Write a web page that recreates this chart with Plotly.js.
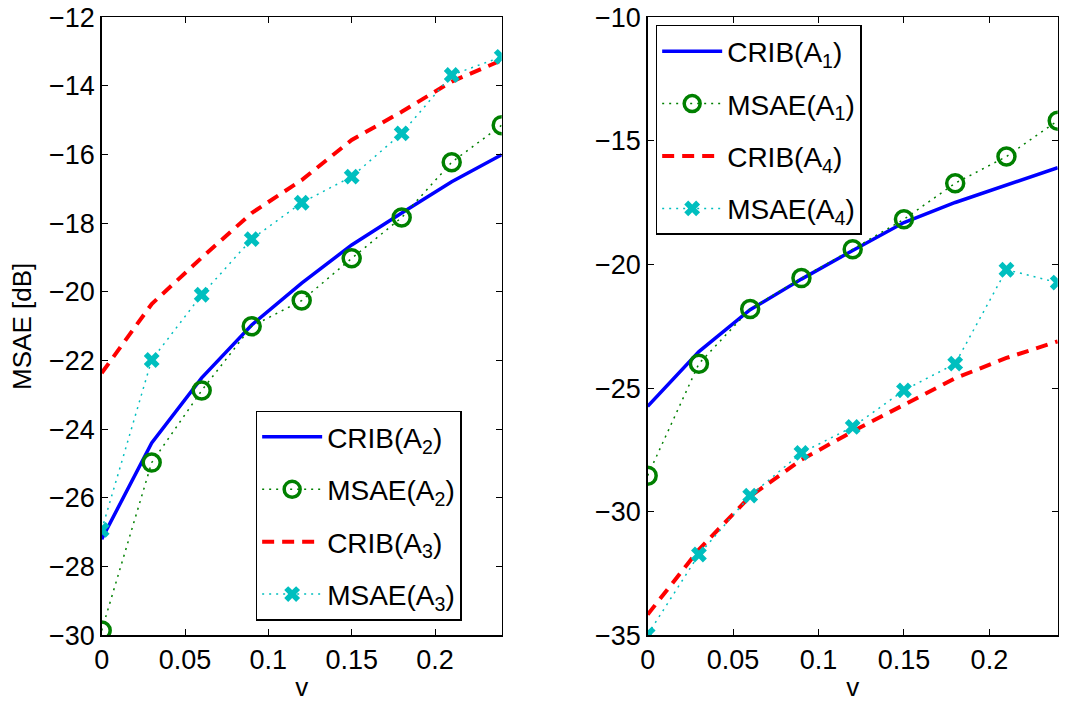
<!DOCTYPE html>
<html>
<head>
<meta charset="utf-8">
<script src="https://cdn.plot.ly/plotly-3.0.1.min.js"></script>
<style>html,body{margin:0;padding:0;background:#fff;}#chart{width:1067px;height:702px;}</style>
</head>
<body>
<div id="chart"></div>
<script>
// ---- data ----
var v = [0, 0.03, 0.06, 0.09, 0.12, 0.15, 0.18, 0.21, 0.24];

// left panel
var cribA2 = [-27.2, -24.4, -22.5, -20.96, -19.74, -18.63, -17.7, -16.79, -16.0];
var msaeA2 = [-29.86, -24.97, -22.87, -21.0, -20.25, -19.02, -17.83, -16.22, -15.14];
var cribA3 = [-22.36, -20.35, -19.0, -17.7, -16.74, -15.57, -14.75, -13.87, -13.25];
var msaeA3 = [-26.93, -21.98, -20.08, -18.46, -17.4, -16.64, -15.38, -13.68, -13.15];

// right panel
var cribA1 = [-25.74, -23.52, -21.83, -20.59, -19.43, -18.3, -17.49, -16.78, -16.08];
var msaeA1 = [-28.54, -24.01, -21.8, -20.55, -19.38, -18.17, -16.71, -15.63, -14.18];
var cribA4 = [-34.16, -31.53, -29.38, -27.9, -26.75, -25.67, -24.6, -23.78, -23.11];
var msaeA4 = [-34.97, -31.73, -29.35, -27.62, -26.57, -25.09, -24.01, -20.21, -20.73];

var xTicks = [0, 0.05, 0.1, 0.15, 0.2];
var xTickText = ['0', '0.05', '0.1', '0.15', '0.2'];
var yTicksL = [-30, -28, -26, -24, -22, -20, -18, -16, -14, -12];
var yTicksR = [-35, -30, -25, -20, -15, -10];

var names = {
  cribA2: 'CRIB(A<sub>2</sub>)', msaeA2: 'MSAE(A<sub>2</sub>)',
  cribA3: 'CRIB(A<sub>3</sub>)', msaeA3: 'MSAE(A<sub>3</sub>)',
  cribA1: 'CRIB(A<sub>1</sub>)', msaeA1: 'MSAE(A<sub>1</sub>)',
  cribA4: 'CRIB(A<sub>4</sub>)', msaeA4: 'MSAE(A<sub>4</sub>)'
};

// ---- styles ----
var BLUE = '#0000ff', GREEN = '#008000', RED = '#ff0000', CYAN = '#00bfbf';
function crib(y, name, color, dash, xa, ya, leg, grp) {
  return {x: v, y: y, name: name, type: 'scatter', mode: 'lines',
    line: {color: color, width: dash === 'solid' ? 3.5 : 4, dash: dash},
    xaxis: xa, yaxis: ya, legend: leg, legendgroup: grp};
}
function msae(y, name, color, sym, xa, ya, leg, grp) {
  var mk = sym === 'o'
    ? {symbol: 'circle-open', size: 17, color: color, line: {width: 3.5, color: color}}
    : {symbol: 'x', size: 14, color: color, line: {width: 0}};
  return {x: v, y: y, name: name, type: 'scatter', mode: 'lines+markers',
    line: {color: color, width: 1.5, dash: '2px,5px'}, marker: mk,
    xaxis: xa, yaxis: ya, legend: leg, legendgroup: grp};
}

var traces = [
  crib(cribA2, names.cribA2, BLUE, 'solid', 'x', 'y', 'legend', 'a'),
  msae(msaeA2, names.msaeA2, GREEN, 'o', 'x', 'y', 'legend', 'b'),
  crib(cribA3, names.cribA3, RED, '12px,8px', 'x', 'y', 'legend', 'c'),
  msae(msaeA3, names.msaeA3, CYAN, 'x', 'x', 'y', 'legend', 'd'),
  crib(cribA1, names.cribA1, BLUE, 'solid', 'x2', 'y2', 'legend2', 'e'),
  msae(msaeA1, names.msaeA1, GREEN, 'o', 'x2', 'y2', 'legend2', 'f'),
  crib(cribA4, names.cribA4, RED, '12px,8px', 'x2', 'y2', 'legend2', 'g'),
  msae(msaeA4, names.msaeA4, CYAN, 'x', 'x2', 'y2', 'legend2', 'h')
];

var FONT = 'Arial';
function xaxis(dom, anchor) {
  return {domain: dom, anchor: anchor, range: [0, 0.24], tickvals: xTicks, ticktext: xTickText,
    ticks: 'inside', ticklen: 6, tickcolor: '#000', mirror: 'ticks', showline: true,
    linecolor: '#000', linewidth: 1.5, showgrid: false, zeroline: false,
    tickfont: {family: FONT, size: 27, color: '#000'},
    title: {text: 'v', font: {family: FONT, size: 26, color: '#000'}, standoff: 6}};
}
function yaxis(rng, ticks, anchor, title) {
  var a = {domain: [0.095, 0.9753], anchor: anchor, range: rng, tickvals: ticks,
    ticks: 'inside', ticklen: 6, tickcolor: '#000', mirror: 'ticks', showline: true,
    linecolor: '#000', linewidth: 1.5, showgrid: false, zeroline: false,
    tickfont: {family: FONT, size: 27, color: '#000'}};
  if (title) a.title = {text: title, font: {family: FONT, size: 26, color: '#000'}, standoff: 10};
  return a;
}
function legend(x, y) {
  return {x: x, y: y, xanchor: 'left', yanchor: 'top', bgcolor: '#fff',
    bordercolor: '#000', borderwidth: 1.5, tracegroupgap: 13, traceorder: 'grouped',
    itemwidth: 60, font: {family: FONT, size: 28, color: '#000'}};
}

var layout = {
  width: 1067, height: 702, margin: {l: 0, r: 0, t: 0, b: 0},
  paper_bgcolor: '#fff', plot_bgcolor: '#fff', showlegend: true,
  xaxis: xaxis([0.0953, 0.4702], 'y'),
  yaxis: yaxis([-30, -12], yTicksL, 'x', 'MSAE [dB]'),
  xaxis2: xaxis([0.607, 0.9913], 'y2'),
  yaxis2: yaxis([-35, -10], yTicksR, 'x2', null),
  legend: legend(0.2396, 0.415),
  legend2: legend(0.6145, 0.9644)
};

Plotly.newPlot('chart', traces, layout, {staticPlot: true});
</script>
</body>
</html>
